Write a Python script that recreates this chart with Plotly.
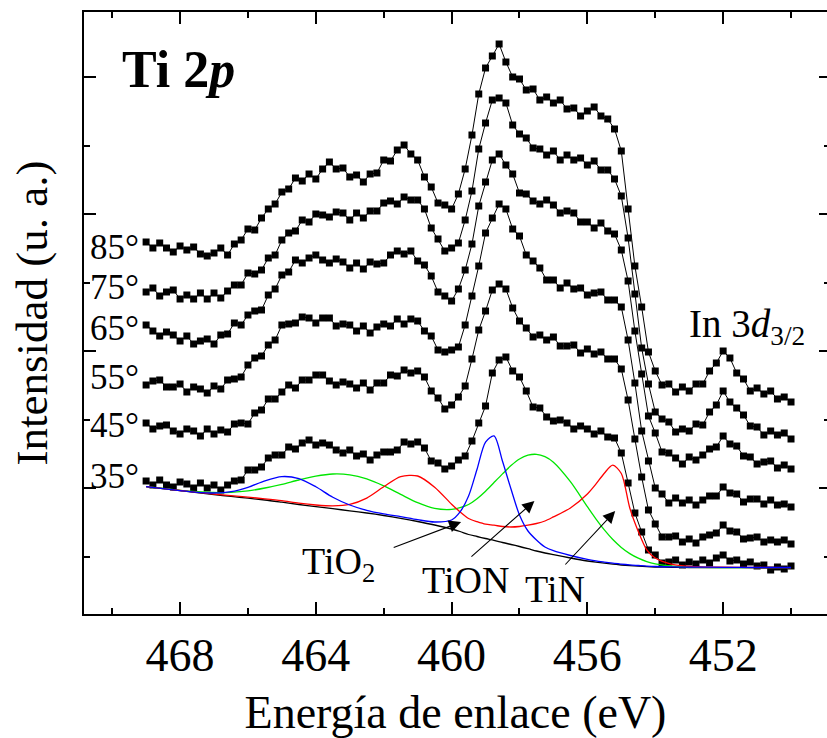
import plotly.graph_objects as go

FONT = "Liberation Serif, Times New Roman, serif"

# Binding energy grid of the measured spectra (eV)
ENERGY = [469.0, 468.8, 468.6, 468.4, 468.2, 468.0, 467.8, 467.6, 467.4, 467.2,
          467.0, 466.8, 466.6, 466.4, 466.2, 466.0, 465.8, 465.6, 465.4, 465.2,
          465.0, 464.8, 464.6, 464.4, 464.2, 464.0, 463.8, 463.6, 463.4, 463.2,
          463.0, 462.8, 462.6, 462.4, 462.2, 462.0, 461.8, 461.6, 461.4, 461.2,
          461.0, 460.8, 460.6, 460.4, 460.2, 460.0, 459.8, 459.6, 459.4, 459.2,
          459.0, 458.8, 458.6, 458.4, 458.2, 458.0, 457.8, 457.6, 457.4, 457.2,
          457.0, 456.8, 456.6, 456.4, 456.2, 456.0, 455.8, 455.6, 455.4, 455.2,
          455.0, 454.8, 454.6, 454.4, 454.2, 454.0, 453.8, 453.6, 453.4, 453.2,
          453.0, 452.8, 452.6, 452.4, 452.2, 452.0, 451.8, 451.6, 451.4, 451.2,
          451.0, 450.8, 450.6, 450.4, 450.2, 450.0]

# Stacked spectra (offset intensities, a.u.)
I_85 = [372, 366, 371, 366, 362, 368, 364, 367, 360, 358,
        361, 366, 359, 370, 374, 385, 384, 396, 405, 410,
        422, 425, 436, 433, 440, 435, 445, 452, 445, 446,
        437, 439, 432, 440, 441, 454, 453, 464, 469, 460,
        454, 437, 427, 411, 409, 405, 420, 445, 479, 520,
        546, 558, 570, 552, 537, 535, 524, 525, 514, 517,
        511, 514, 505, 506, 498, 503, 507, 498, 495, 485,
        463, 405, 348, 307, 262, 243, 229, 230, 222, 227,
        223, 230, 230, 243, 251, 263, 256, 241, 235, 223,
        226, 220, 223, 215, 217, 212]
I_75 = [322, 326, 318, 322, 324, 315, 319, 315, 321, 315,
        321, 316, 323, 329, 329, 341, 340, 344, 356, 359,
        374, 381, 383, 394, 392, 400, 399, 397, 402, 401,
        394, 401, 396, 403, 403, 411, 413, 410, 417, 414,
        414, 405, 386, 375, 363, 366, 371, 394, 423, 465,
        491, 514, 516, 511, 489, 480, 476, 466, 465, 459,
        463, 454, 459, 454, 456, 449, 453, 444, 444, 435,
        418, 376, 320, 266, 230, 202, 195, 192, 182, 185,
        183, 190, 189, 202, 209, 223, 212, 206, 199, 188,
        187, 179, 183, 179, 181, 175]
I_65 = [289, 283, 278, 282, 279, 273, 278, 270, 273, 275,
        270, 279, 280, 291, 289, 299, 303, 304, 319, 325,
        339, 342, 354, 351, 356, 359, 354, 351, 355, 352,
        346, 351, 345, 352, 350, 351, 359, 363, 360, 363,
        353, 349, 338, 322, 318, 313, 325, 344, 370, 408,
        432, 454, 460, 449, 440, 421, 420, 413, 410, 414,
        409, 401, 403, 401, 392, 392, 386, 391, 383, 380,
        364, 333, 283, 240, 198, 181, 162, 161, 156, 150,
        157, 154, 159, 165, 167, 178, 170, 168, 158, 157,
        150, 152, 153, 146, 149, 145]
I_55 = [229, 233, 234, 227, 227, 230, 222, 227, 225, 221,
        228, 225, 234, 235, 237, 249, 256, 258, 269, 274,
        289, 290, 291, 297, 296, 291, 296, 296, 288, 290,
        289, 283, 288, 281, 287, 290, 288, 295, 290, 295,
        293, 283, 278, 264, 262, 264, 267, 289, 318, 348,
        381, 396, 410, 405, 385, 378, 359, 353, 346, 334,
        334, 326, 331, 325, 326, 319, 321, 322, 314, 314,
        307, 274, 231, 183, 153, 126, 120, 111, 116, 111,
        114, 109, 114, 118, 118, 127, 121, 120, 112, 115,
        115, 110, 114, 109, 110, 107]
I_45 = [191, 185, 188, 189, 183, 180, 185, 183, 178, 185,
        180, 184, 182, 190, 191, 190, 201, 204, 215, 215,
        222, 229, 226, 234, 234, 239, 239, 233, 229, 232,
        230, 226, 231, 224, 231, 231, 239, 238, 244, 241,
        243, 237, 223, 216, 205, 209, 217, 228, 255, 284,
        303, 324, 330, 325, 306, 293, 286, 277, 279, 274,
        277, 268, 268, 269, 261, 265, 260, 262, 255, 255,
        245, 214, 175, 137, 104, 90, 77, 77, 78, 72,
        75, 71, 77, 79, 81, 89, 83, 82, 75, 76,
        77, 72, 74, 72, 74, 70]
I_35 = [133, 129, 134, 129, 127, 132, 130, 126, 131, 126,
        129, 124, 129, 133, 134, 144, 144, 147, 156, 159,
        159, 167, 165, 171, 174, 169, 171, 169, 164, 161,
        164, 158, 160, 154, 159, 162, 162, 164, 172, 170,
        172, 166, 153, 151, 145, 148, 154, 158, 173, 191,
        208, 241, 254, 257, 243, 237, 223, 207, 206, 197,
        193, 194, 191, 185, 188, 185, 180, 183, 177, 176,
        161, 131, 101, 82, 64, 59, 51, 52, 54, 49,
        52, 50, 54, 51, 56, 59, 53, 54, 50, 52,
        48, 49, 44, 47, 45, 48]

ANGLES = ["85°", "75°", "65°", "55°", "45°", "35°"]
ANGLE_LABEL_Y = [367, 327, 286, 237, 189, 138]

# Peak-fit components of the 35° spectrum (each includes the background)
COMP_X = [469.0, 468.5, 468.0, 467.5, 467.0, 466.5, 466.0, 465.5, 465.0, 464.5,
          464.0, 463.5, 463.0, 462.5, 462.0, 461.5, 461.0, 460.5, 460.0, 459.75,
          459.5, 459.25, 459.0, 458.75, 458.5, 458.25, 458.0, 457.75, 457.5, 457.25,
          457.0, 456.5, 456.0, 455.75, 455.5, 455.25, 455.0, 454.75, 454.5, 454.25,
          454.0, 453.5, 453.0, 452.0, 451.0, 450.0]
BACKGROUND = [127.3, 125.3, 123.3, 121.3, 119.4, 117.6, 115.8, 114.0, 111.8, 109.5,
              107.3, 105.3, 103.2, 101.0, 98.5, 95.7, 92.5, 89.0, 85.0, 82.5,
              79.5, 77.5, 75.5, 73.7, 71.5, 69.5, 67.5, 65.3, 63.0, 61.0,
              59.3, 56.0, 53.0, 51.8, 50.8, 49.8, 49.0, 48.3, 47.8, 47.3,
              47.0, 46.7, 46.5, 46.4, 46.3, 46.3]
TIO2_FIT = [127.3, 125.3, 123.4, 121.7, 121.0, 122.3, 126.7, 133.2, 137.4, 135.4,
            127.2, 116.8, 109.0, 103.7, 100.1, 97.3, 94.3, 92.0, 94.0, 102.1,
            117.9, 144.8, 171.9, 178.1, 152.7, 125.0, 99.0, 83.0, 74.0, 67.0,
            63.3, 58.5, 54.6, 53.1, 51.9, 50.8, 49.9, 49.1, 48.5, 47.9,
            47.5, 47.1, 46.9, 46.7, 46.5, 46.5]
TION_FIT = [127.4, 125.5, 123.7, 122.3, 121.5, 121.7, 123.1, 126.0, 129.7, 134.0,
            137.8, 140.0, 139.2, 135.1, 128.1, 119.6, 111.3, 105.6, 104.6, 106.3,
            109.5, 115.3, 122.8, 131.5, 140.1, 148.4, 155.0, 158.8, 159.7, 157.3,
            151.8, 132.3, 107.3, 95.2, 84.1, 74.5, 66.6, 60.4, 55.8, 52.4,
            50.2, 47.8, 46.8, 46.4, 46.3, 46.3]
TIN_FIT = [127.3, 125.4, 123.5, 121.7, 120.0, 118.4, 116.8, 115.2, 113.3, 110.8,
           109.0, 108.1, 109.6, 115.9, 127.2, 137.4, 138.0, 126.8, 109.8, 102.1,
           95.5, 92.3, 89.8, 88.8, 87.5, 87.0, 87.5, 88.8, 90.5, 93.0,
           97.1, 106.0, 120.0, 129.8, 140.8, 148.8, 140.5, 106.0, 82.6, 64.2,
           56.0, 49.7, 47.7, 46.8, 46.5, 46.4]

X_TICKS = [468, 464, 460, 456, 452]
X_TICK_TEXT = ["468", "464", "460", "456", "452"]

fig = go.Figure()

for vals in [I_85, I_75, I_65, I_55, I_45, I_35]:
    fig.add_trace(go.Scatter(
        x=ENERGY, y=vals, mode="lines+markers",
        line=dict(color="black", width=1),
        marker=dict(symbol="square", size=7, color="black"),
        showlegend=False, hoverinfo="skip"))

for vals, col in [(BACKGROUND, "black"), (TION_FIT, "#00e600"),
                  (TIN_FIT, "#ff0000"), (TIO2_FIT, "#0000ff")]:
    fig.add_trace(go.Scatter(
        x=COMP_X, y=vals, mode="lines",
        line=dict(color=col, width=1.3, shape="spline", smoothing=0.8),
        showlegend=False, hoverinfo="skip"))

# carrier trace for the right-hand tick axis
fig.add_trace(go.Scatter(x=[None], y=[None], yaxis="y2", showlegend=False))

annotations = []
for lab, yy in zip(ANGLES, ANGLE_LABEL_Y):
    annotations.append(dict(x=470.71, y=yy, xref="x", yref="y", text=lab,
                            showarrow=False, xanchor="left", yanchor="middle",
                            font=dict(family=FONT, size=35, color="black")))

annotations.append(dict(x=469.77, y=545, xref="x", yref="y",
                        text="<b>Ti 2<i>p</i></b>", showarrow=False,
                        xanchor="left", yanchor="middle",
                        font=dict(family=FONT, size=52, color="black")))
annotations.append(dict(x=453.06, y=288, xref="x", yref="y",
                        text="In 3<i>d</i><sub>3/2</sub>", showarrow=False,
                        xanchor="left", yanchor="middle",
                        font=dict(family=FONT, size=39, color="black")))

for txt, xx, yy in [("TiO<sub>2</sub>", 464.46, 50), ("TiON", 460.93, 34),
                    ("TiN", 457.89, 25)]:
    annotations.append(dict(x=xx, y=yy, xref="x", yref="y", text=txt,
                            showarrow=False, xanchor="left", yanchor="middle",
                            font=dict(family=FONT, size=38, color="black")))

for (hx, hy, tx, ty) in [(459.72, 92, 461.75, 66), (457.56, 113, 459.46, 56),
                         (455.18, 103, 456.69, 48)]:
    annotations.append(dict(x=hx, y=hy, ax=tx, ay=ty, xref="x", yref="y",
                            axref="x", ayref="y", text="", showarrow=True,
                            arrowhead=2, arrowsize=2.2, arrowwidth=1.1,
                            arrowcolor="black", standoff=0, startstandoff=0))

fig.update_layout(
    width=827, height=738,
    margin=dict(l=84, r=0, t=12, b=124),
    paper_bgcolor="white", plot_bgcolor="white",
    showlegend=False,
    annotations=annotations,
    xaxis=dict(
        range=[470.83, 448.94], showgrid=False, zeroline=False,
        showline=True, linecolor="black", linewidth=2, mirror="ticks",
        ticks="inside", ticklen=12, tickwidth=2, tickcolor="black",
        tickmode="array", tickvals=X_TICKS, ticktext=X_TICK_TEXT,
        tickfont=dict(family=FONT, size=46, color="black"),
        minor=dict(ticks="inside", ticklen=6, tickwidth=1.5, tickcolor="black",
                   dtick=2, tick0=468),
        title=dict(text="Energía de enlace (eV)", standoff=17,
                   font=dict(family=FONT, size=46, color="black")),
    ),
    yaxis=dict(
        range=[0, 602], showgrid=False, zeroline=False, showticklabels=False,
        showline=True, linecolor="black", linewidth=2, mirror=False,
        ticks="inside", ticklen=12, tickwidth=2, tickcolor="black",
        tick0=126, dtick=137,
        minor=dict(ticks="inside", ticklen=6, tickwidth=1.5, tickcolor="black",
                   tick0=126, dtick=68.5),
        title=dict(text="Intensidad (u. a.)", standoff=20,
                   font=dict(family=FONT, size=45, color="black")),
    ),
    yaxis2=dict(
        overlaying="y", side="right", range=[0, 602], showgrid=False,
        zeroline=False, showticklabels=False, showline=False,
        ticks="inside", ticklen=8, tickwidth=2, tickcolor="black",
        tick0=126, dtick=137,
        minor=dict(ticks="inside", ticklen=3, tickwidth=1.5, tickcolor="black",
                   tick0=126, dtick=68.5),
    ),
)

fig.write_html("out.html")
